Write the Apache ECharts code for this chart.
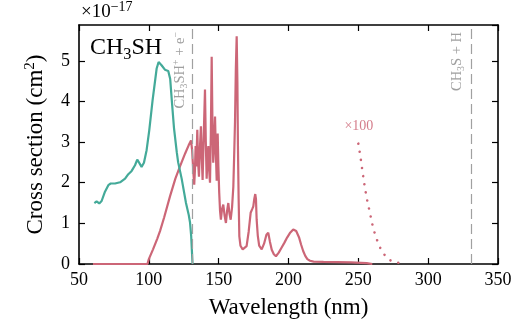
<!DOCTYPE html>
<html>
<head>
<meta charset="utf-8">
<script src="https://cdn.jsdelivr.net/npm/echarts@6/dist/echarts.min.js"></script>
<style>
  html, body { margin: 0; padding: 0; background: #fff; }
  #chart { width: 525px; height: 324px; }
</style>
</head>
<body>
<div id="chart"></div>
<script>
// CH3SH cross sections (units of 1e-17 cm^2) versus wavelength (nm)

// photoionisation cross section, short-wavelength band
const ionisation = [
  [61, 1.50], [62.6, 1.54], [64.5, 1.49], [66.2, 1.55], [68.6, 1.78], [71, 1.94],
  [72.7, 1.98], [75.8, 1.98], [79.4, 2.01], [83, 2.10], [85.3, 2.21], [87.7, 2.29],
  [90.1, 2.43], [91.7, 2.57], [92.9, 2.58], [94.8, 2.39], [96.5, 2.49], [98.4, 2.80],
  [100.3, 3.29], [102.7, 4.03], [105.6, 4.81], [107.0, 4.97], [109.1, 4.89],
  [111.5, 4.78], [113.9, 4.75], [115.3, 4.55], [116.5, 4.0], [118, 3.35], [120, 2.75],
  [121, 2.50], [123.5, 2.10], [126.6, 1.50], [128.5, 1.22], [129.5, 1.02],
  [130.3, 0.70], [130.8, 0.35], [131.3, 0.0]
];

// photoabsorption / photodissociation cross section
const absorption = [
  [60, 0], [70, 0], [80, 0], [90, 0], [99, 0],
  [100, 0.12], [103, 0.36], [106, 0.62], [108, 0.81], [111, 1.15], [115.2, 1.67],
  [119, 2.1], [122.3, 2.40], [126, 2.72], [128.5, 2.92], [130.2, 3.04],
  [131, 2.8], [131.4, 2.55], [132, 2.2], [132.5, 1.95], [133, 2.3], [133.5, 2.9],
  [134, 2.4], [134.7, 3.30], [135.3, 2.5], [135.9, 2.15], [136.5, 2.8], [137.3, 3.39],
  [137.9, 2.6], [138.5, 2.07], [139.2, 3.0], [140.2, 4.29], [140.8, 3.0], [141.4, 2.1],
  [142, 2.6], [142.6, 2.9], [143.2, 2.3], [143.8, 2.0], [144.4, 3.2], [145.0, 5.1],
  [145.5, 3.6], [146.1, 2.49], [146.8, 3.0], [147.4, 3.63], [148, 2.7], [148.6, 2.05],
  [149.3, 3.21], [149.8, 2.4], [150.4, 1.75], [151, 1.3], [151.6, 1.09], [152.4, 1.35],
  [153.3, 1.46], [154.2, 1.2], [155.2, 1.01], [156, 1.3], [156.9, 1.50], [157.7, 1.25],
  [158.6, 1.09], [159.6, 1.4], [160.5, 1.9], [161.2, 2.8], [161.7, 3.5], [162.3, 4.8],
  [162.9, 5.6], [163.4, 4.5], [163.8, 2.9], [164.3, 1.6], [164.8, 0.68], [165.6, 0.45],
  [167.2, 0.36], [168.5, 0.38], [170, 0.44], [171.5, 0.8], [172.9, 1.26], [174, 1.35],
  [174.8, 1.42], [175.5, 1.6], [176.2, 1.72], [176.7, 1.6], [177.2, 1.09], [178, 0.7],
  [179, 0.45], [180.8, 0.36], [182.5, 0.5], [184.2, 0.72], [185.5, 0.77], [186.7, 0.55],
  [188, 0.35], [189.5, 0.24], [191, 0.19], [193, 0.28], [195, 0.40], [197, 0.52],
  [199, 0.65], [201, 0.76], [203.4, 0.85], [205.5, 0.81], [207.5, 0.66], [209, 0.48],
  [210.5, 0.32], [212, 0.2], [213.5, 0.12], [215.4, 0.08], [218, 0.06], [225, 0.05],
  [235, 0.045], [245, 0.04], [252, 0.03], [256, 0.02], [260, 0.0]
];

// long-wavelength tail of the absorption, multiplied by 100
const absorptionTail = [
  [250, 2.96], [251, 2.75], [252, 2.52], [253, 2.27], [254, 2.03], [255, 1.82],
  [256, 1.62], [257, 1.46], [258, 1.31], [259, 1.14], [260, 0.98], [261, 0.84],
  [262, 0.73], [263, 0.63], [264, 0.53], [265, 0.45], [266, 0.37], [268, 0.26],
  [270, 0.17], [272, 0.11], [274, 0.07], [276, 0.05], [278, 0.035], [280, 0.025]
];

// thresholds (nm)
const thresholds = [
  { wl: 131, text: 'CH{sub|3}SH{sup|+} + e{sup|−}', gap: 3 },
  { wl: 331, text: 'CH{sub|3}S + H', gap: 5 }
];

const FONT = '"Liberation Serif", "DejaVu Serif", serif';
const TEAL = '#44AA99';
const ROSE = '#CC6677';
const GRAY = '#a0a0a0';

const chart = echarts.init(document.getElementById('chart'), null, { renderer: 'canvas' });

const spine = { show: true, onZero: false, lineStyle: { color: '#000', width: 1.6 } };
const tick = { show: true, inside: true, length: 6, lineStyle: { color: '#000', width: 1.2 } };
const tickLabel = { fontFamily: FONT, fontSize: 18, color: '#000' };

chart.setOption({
  animation: false,
  backgroundColor: '#fff',
  grid: { left: 79, right: 27, top: 25, bottom: 59.5, containLabel: false },
  xAxis: [
    {
      type: 'value', min: 50, max: 350, interval: 50, position: 'bottom',
      axisLine: spine, axisTick: tick, splitLine: { show: false },
      axisLabel: Object.assign({ margin: 7, showMaxLabel: true, showMinLabel: true }, tickLabel),
      name: 'Wavelength (nm)', nameLocation: 'middle', nameGap: 32,
      nameTextStyle: { fontFamily: FONT, fontSize: 23, color: '#000' }
    },
    {
      type: 'value', min: 50, max: 350, interval: 50, position: 'top',
      axisLine: spine, axisTick: tick, splitLine: { show: false },
      axisLabel: { show: false }
    }
  ],
  yAxis: [
    {
      type: 'value', min: 0, max: 5.88, interval: 1, position: 'left',
      axisLine: spine, axisTick: tick, splitLine: { show: false },
      axisLabel: Object.assign({
        margin: 9, showMaxLabel: false,
        formatter: v => (Number.isInteger(v) ? String(v) : '')
      }, tickLabel),
      name: 'Cross section (cm{sup|2})', nameLocation: 'middle', nameGap: 27,
      nameTextStyle: {
        fontFamily: FONT, fontSize: 23, color: '#000', lineHeight: 28,
        rich: { sup: { fontFamily: FONT, fontSize: 15, lineHeight: 15, verticalAlign: 'top', color: '#000' } }
      }
    },
    {
      type: 'value', min: 0, max: 5.88, interval: 1, position: 'right',
      axisLine: spine, axisTick: tick, splitLine: { show: false },
      axisLabel: { show: false }
    }
  ],
  series: [
    {
      name: 'absorption', type: 'line', data: absorption, showSymbol: false,
      lineStyle: { color: ROSE, width: 2.2 }, itemStyle: { color: ROSE }, z: 2,
      markLine: {
        silent: true, symbol: 'none', label: { show: false },
        lineStyle: { color: GRAY, width: 1.2, type: [10, 5] },
        data: thresholds.map(t => ({ xAxis: t.wl }))
      }
    },
    {
      name: 'absorption x100', type: 'line', data: absorptionTail, showSymbol: false,
      lineStyle: { color: ROSE, width: 2.6, type: [0.01, 8.2], cap: 'round' },
      itemStyle: { color: ROSE }, z: 2
    },
    {
      name: 'ionisation', type: 'line', data: ionisation, showSymbol: false,
      lineStyle: { color: TEAL, width: 2.2 }, itemStyle: { color: TEAL }, z: 3
    }
  ]
});

// annotations placed through the chart's own coordinate system
const px = p => chart.convertToPixel({ gridIndex: 0 }, p);
const plotTop = px([50, 5.88])[1];

const subSup = (size, fill) => ({
  sub: { fontFamily: FONT, fontSize: size * 0.68, lineHeight: size * 0.68, verticalAlign: 'bottom', fill },
  sup: { fontFamily: FONT, fontSize: size * 0.68, lineHeight: size * 0.68, verticalAlign: 'top', fill }
});

const graphics = [
  {
    type: 'text', x: 81, y: 12, z: 10,
    style: {
      text: '×10{sup|−17}', fontFamily: FONT, fontSize: 19, lineHeight: 24, fill: '#000',
      align: 'left', verticalAlign: 'middle',
      rich: { sup: { fontFamily: FONT, fontSize: 14, lineHeight: 14, verticalAlign: 'top', fill: '#000' } }
    }
  },
  {
    type: 'text', x: 90, y: 48, z: 10,
    style: {
      text: 'CH{sub|3}SH', fontFamily: FONT, fontSize: 24, lineHeight: 30, fill: '#000',
      align: 'left', verticalAlign: 'middle', rich: subSup(24, '#000')
    }
  }
];

const tailLabelPos = px([250.4, 3.38]);
graphics.push({
  type: 'text', x: tailLabelPos[0], y: tailLabelPos[1], z: 10,
  style: {
    text: '×100', fontFamily: FONT, fontSize: 14, fill: 'rgba(204,102,119,0.85)',
    align: 'center', verticalAlign: 'middle'
  }
});

thresholds.forEach(t => {
  const p = px([t.wl, 0]);
  graphics.push({
    type: 'text', x: p[0] - t.gap, y: plotTop + 7, rotation: Math.PI / 2, z: 10,
    style: {
      text: t.text, fontFamily: FONT, fontSize: 14.5, lineHeight: 18, fill: GRAY,
      align: 'right', verticalAlign: 'bottom', rich: subSup(14.5, GRAY)
    }
  });
});

chart.setOption({ graphic: { elements: graphics } });
</script>
</body>
</html>
